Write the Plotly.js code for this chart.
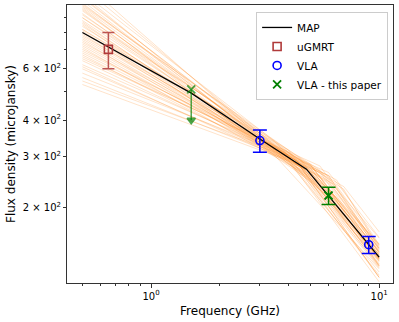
<!DOCTYPE html>
<html>
<head>
<meta charset="utf-8">
<script src="https://cdn.plot.ly/plotly-3.0.1.min.js"></script>
<style>html,body{margin:0;padding:0;background:#fff}</style>
</head>
<body>
<div id="fluxChart" style="width:399px;height:322px"></div>
<script>
'use strict'

// posterior draws (broken power law):
// flux at 0.5 GHz, at 3 GHz, break frequency, flux at break, flux at 10 GHz
var sampS05 = [1050,980,900,860,820,800,760,720,700,680,640,600,560,530,1100,1000,950,920,880,840,780,740,660,620,580,545,1030,960,870,810,770,730,690,650,990,1060,930,850,790,750,1150,1200,1080,710,670,900,820,970,1010,610];
var sampS3 = [360,350,345,340,345,340,335,330,340,335,330,325,320,315,370,365,355,360,350,355,350,345,340,335,330,325,345,340,330,335,345,340,345,345,370,355,335,325,330,325,360,350,340,320,325,365,360,330,350,320];
var sampFb = [5,4.5,5.5,4,6,4.8,5,4.5,6.5,5.5,4,5,4.5,6,3.5,4,6,7,5,4.5,5.5,6,5,6,4,5,5.5,4.5,6.5,4,7,5,4.5,5.5,5,4.5,5,6,5.5,4.5,5,4,6,5,6.5,5.5,4,3.5,6,5.5];
var sampSb = [265,277,249,293,247,272,265,277,249,264,297,273,282,258,337,311,242,231,269,292,267,257,282,264,302,280,239,269,217,291,236,273,295,278,279,277,250,224,246,269,258,287,218,255,238,269,315,301,232,257];
var sampS10 = [133,125,145,117,141,134,142,115,149,137,124,137,127,143,138,130,145,145,149,126,147,139,132,158,115,140,135,131,150,111,165,137,133,144,140,115,134,141,131,126,134,120,134,128,148,157,132,123,126,133];

// MAP curve
var mapFreq = [0.5, 1.5, 3, 4.8, 10];
var mapFlux = [800, 495, 344, 271, 135];

// measurements
var ugmrtFreq = [0.65], ugmrtFlux = [700], ugmrtErr = [100];
var vlaFreq = [3, 9], vlaFlux = [340, 149], vlaErr = [30, 10];
var thisFreq = [6], thisFlux = [220], thisErr = [15];
// upper limit from this paper
var ulFreq = [1.5], ulFlux = [510], ulArrowTo = [400];

var yTickVals = [200, 300, 400, 600];
var yTickText = ['2 × 10<sup>2</sup>', '3 × 10<sup>2</sup>', '4 × 10<sup>2</sup>', '6 × 10<sup>2</sup>'];
var yMinorVals = [500, 700, 800, 900];
var xTickVals = [1, 10];
var xTickText = ['10<sup>0</sup>', '10<sup>1</sup>'];
var xMinorVals = [0.5, 0.6, 0.7, 0.8, 0.9, 2, 3, 4, 5, 6, 7, 8, 9];

var data = [];

for (var i = 0; i < sampS05.length; i++) {
    data.push({
        x: [0.5, 3, sampFb[i], 10],
        y: [sampS05[i], sampS3[i], sampSb[i], sampS10[i]],
        mode: 'lines',
        line: { color: 'rgba(255,127,14,0.22)', width: 1 },
        showlegend: false,
        hoverinfo: 'skip'
    });
}

data.push({
    x: mapFreq,
    y: mapFlux,
    mode: 'lines',
    name: 'MAP',
    line: { color: 'black', width: 1.3 }
});

data.push({
    x: ugmrtFreq,
    y: ugmrtFlux,
    mode: 'markers',
    name: 'uGMRT',
    marker: { symbol: 'square-open', size: 8, color: '#b03a3a', line: { width: 1.6 } },
    error_y: { type: 'data', array: ugmrtErr, color: 'rgba(176,58,58,0.85)', thickness: 1.5, width: 6 }
});

data.push({
    x: vlaFreq,
    y: vlaFlux,
    mode: 'markers',
    name: 'VLA',
    marker: { symbol: 'circle-open', size: 8, color: 'blue', line: { width: 1.6 } },
    error_y: { type: 'data', array: vlaErr, color: 'blue', thickness: 1.5, width: 7 }
});

data.push({
    x: thisFreq,
    y: thisFlux,
    mode: 'markers',
    name: 'VLA - this paper',
    legendgroup: 'this',
    marker: { symbol: 'x-thin-open', size: 8, color: 'green', line: { width: 1.8, color: 'green' } },
    error_y: { type: 'data', array: thisErr, color: 'green', thickness: 1.5, width: 7 }
});

data.push({
    x: [ulFreq[0], ulFreq[0]],
    y: [ulFlux[0], ulArrowTo[0]],
    mode: 'lines+markers',
    legendgroup: 'this',
    showlegend: false,
    line: { color: 'rgba(0,128,0,0.7)', width: 1.5 },
    marker: { symbol: ['x-thin-open', 'triangle-down'], size: [8, 7], color: 'green', line: { width: 1.8, color: 'green' } }
});

var layout = {
    width: 399,
    height: 322,
    margin: { l: 67, r: 6, t: 5, b: 39 },
    paper_bgcolor: 'white',
    plot_bgcolor: 'white',
    font: { family: 'DejaVu Sans', size: 10, color: 'black' },
    showlegend: true,
    legend: {
        x: 0.985, y: 0.975, xanchor: 'right', yanchor: 'top',
        bgcolor: 'rgba(255,255,255,0.8)',
        bordercolor: '#cccccc',
        borderwidth: 1,
        font: { size: 10.5 },
        tracegroupgap: 0
    },
    xaxis: {
        type: 'log',
        range: [Math.log10(0.428), Math.log10(11.5)],
        tickmode: 'array',
        tickvals: xTickVals,
        ticktext: xTickText,
        ticks: 'outside',
        ticklen: 3.5,
        tickcolor: '#333',
        minor: { tickmode: 'array', tickvals: xMinorVals, ticks: 'outside', ticklen: 2, tickcolor: '#333' },
        showgrid: false,
        zeroline: false,
        showline: true,
        mirror: true,
        linecolor: '#333',
        linewidth: 1,
        title: { text: 'Frequency (GHz)', standoff: 6 }
    },
    yaxis: {
        type: 'log',
        range: [Math.log10(110), Math.log10(995)],
        tickmode: 'array',
        tickvals: yTickVals,
        ticktext: yTickText,
        ticks: 'outside',
        ticklen: 3,
        tickcolor: '#333',
        minor: { tickmode: 'array', tickvals: yMinorVals, ticks: 'outside', ticklen: 2, tickcolor: '#333' },
        showgrid: false,
        zeroline: false,
        showline: true,
        mirror: true,
        linecolor: '#333',
        linewidth: 1,
        title: { text: 'Flux density (microJansky)', standoff: 4 }
    }
};

Plotly.newPlot('fluxChart', data, layout, { displayModeBar: false, staticPlot: true });
</script>
</body>
</html>
